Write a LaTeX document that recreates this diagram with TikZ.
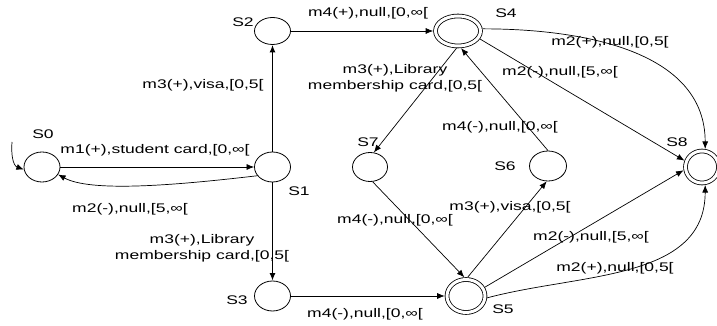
\documentclass[tikz,border=0pt]{standalone}
\usepackage{fontspec}
\setmainfont{Liberation Sans}
\usepackage{graphicx}
\usetikzlibrary{shapes.geometric,arrows.meta}

% text is set wide: horizontally stretched Arial-like face
\newcommand{\wtxt}[1]{\scalebox{1.4}[1]{#1}}

\tikzset{
  state/.style={ellipse, draw, line width=0.8pt, inner sep=0pt,
                minimum width=36pt, minimum height=30pt},
  final/.style={state, double, double distance=3pt, outer sep=2.3pt},
  lbl/.style={inner sep=0pt, font=\fontsize{12.5}{16.5}\selectfont},
  edge/.style={line width=0.7pt, -{Latex[length=7.5pt,width=6pt]}},
  trunk/.style={edge, line width=1.2pt},
}

\begin{document}
\begin{tikzpicture}[x=1pt, y=1pt]
\useasboundingbox (0,0) rectangle (717,326);

% states
\node[state] (S0) at (42,159) {};
\node[state] (S1) at (272.5,159) {};
\node[state, minimum height=27pt] (S2) at (272.5,295) {};
\node[state] (S3) at (272.5,30) {};
\node[final, minimum width=45pt, minimum height=30pt] (S4) at (458,295) {};
\node[final, minimum width=38pt, minimum height=33pt] (S5) at (466,30) {};
\node[state, minimum width=37pt] (S6) at (548,160) {};
\node[state, minimum width=35pt, minimum height=29pt] (S7) at (370,159) {};
\node[final, minimum width=33pt, minimum height=32pt] (S8) at (702,159) {};

% state names
\node[lbl] (nS0) at (43,192) {\wtxt{S0}};
\node[lbl] (nS1) at (299,135) {\wtxt{S1}};
\node[lbl] (nS2) at (243,304) {\wtxt{S2}};
\node[lbl] (nS3) at (237,26) {\wtxt{S3}};
\node[lbl] (nS4) at (506,313) {\wtxt{S4}};
\node[lbl] (nS5) at (503,17) {\wtxt{S5}};
\node[lbl] (nS6) at (505,160) {\wtxt{S6}};
\node[lbl] (nS7) at (368,184) {\wtxt{S7}};
\node[lbl] (nS8) at (677,184) {\wtxt{S8}};

% initial arrow
\coordinate (init) at (12,184);
\draw[edge] (init) to[out=-95, in=160] (S0.188);

% transitions
\draw[edge] (S0) -- (S1);
\draw[edge] (S1.210) .. controls (170,140) and (90,134) .. (S0.-25);
\draw[trunk] (S1) -- (S2);
\draw[trunk] (S1) -- (S3);
\draw[edge] (S2) -- (S4);
\draw[edge] (S3) -- (S5);
\draw[edge] (S4.-95) -- (S7.75);
\draw[edge] (S6.north) -- (S4.-80);
\draw[edge] (S4.-20) -- (S8.160);
\draw[edge] (S4.5) to[out=0, in=90] (S8.80);
\draw[edge] (S7.-80) -- (S5.95);
\draw[edge] (S5.85) -- (S6.-95);
\draw[edge] (S5.25) -- (S8.190);
\draw[edge] (S5.-5) to[out=15, in=-90] (S8.-80);

% transition labels
\node[lbl] (t01) at (155,176) {\wtxt{m1(+),student card,[0,∞[}};
\node[lbl] (t10) at (130,117) {\wtxt{m2(-),null,[5,∞[}};
\node[lbl] (t12) at (203,241) {\wtxt{m3(+),visa,[0,5[}};
\node[lbl] (t13) at (202,78)
  {\wtxt{\begin{tabular}{@{}c@{}}m3(+),Library\\membership card,[0,5[\end{tabular}}};
\node[lbl] (t24) at (368,313) {\wtxt{m4(+),null,[0,∞[}};
\node[lbl] (t47) at (395,248)
  {\wtxt{\begin{tabular}{@{}c@{}}m3(+),Library\\membership card,[0,5[\end{tabular}}};
\node[lbl] (t64) at (500,199) {\wtxt{m4(-),null,[0,∞[}};
\node[lbl] (t48c) at (610,284) {\wtxt{m2(+),null,[0,5[}};
\node[lbl] (t48) at (560,254) {\wtxt{m2(-),null,[5,∞[}};
\node[lbl] (t75) at (395,106) {\wtxt{m4(-),null,[0,∞[}};
\node[lbl] (t56) at (510,119) {\wtxt{m3(+),visa,[0,5[}};
\node[lbl] (t58) at (591,89) {\wtxt{m2(-),null,[5,∞[}};
\node[lbl] (t58c) at (615,58) {\wtxt{m2(+),null,[0,5[}};
\node[lbl] (t35) at (365,12) {\wtxt{m4(-),null,[0,∞[}};
\end{tikzpicture}
\end{document}
